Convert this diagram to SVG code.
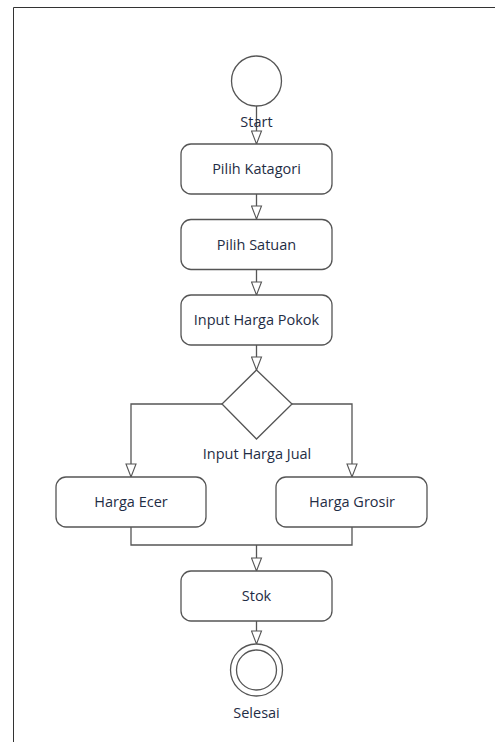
<svg xmlns="http://www.w3.org/2000/svg" width="495" height="742" viewBox="0 0 495 742">
<defs>
<marker id="arr" markerWidth="16" markerHeight="12" refX="14" refY="6" orient="auto" markerUnits="userSpaceOnUse" viewBox="0 0 16 12">
<path d="M1,1 L14,6 L1,11 Z" fill="#fff" stroke="#555" stroke-width="1.1"/>
</marker>
<style>
.n{fill:#fff;stroke:#555;stroke-width:1.3}
.c{fill:none;stroke:#555;stroke-width:1.3}
.t{font-family:"Open Sans","Liberation Sans",sans-serif;font-size:14.5px;fill:#1f2d45;text-anchor:middle}
</style>
</defs>
<rect width="495" height="742" fill="#fff"/>
<path d="M13.5,742 V7.5 H495" fill="none" stroke="#333" stroke-width="1"/>
<g id="connectors">
<line class="c" x1="256.5" y1="106" x2="256.5" y2="144" marker-end="url(#arr)"/>
<line class="c" x1="256.5" y1="194" x2="256.5" y2="219" marker-end="url(#arr)"/>
<line class="c" x1="256.5" y1="270" x2="256.5" y2="295" marker-end="url(#arr)"/>
<line class="c" x1="256.5" y1="345" x2="256.5" y2="370" marker-end="url(#arr)"/>
<polyline class="c" points="222,404 131,404 131,477" marker-end="url(#arr)"/>
<polyline class="c" points="292,404 352,404 352,477" marker-end="url(#arr)"/>
<polyline class="c" points="131,527 131,545 352,545 352,527"/>
<line class="c" x1="256.5" y1="545" x2="256.5" y2="571" marker-end="url(#arr)"/>
<line class="c" x1="256.5" y1="621" x2="256.5" y2="644" marker-end="url(#arr)"/>
</g>
<g id="start">
<circle class="n" cx="256.5" cy="81" r="25"/>
<text class="t" x="256.5" y="127">Start</text>
</g>
<g id="pilih-katagori">
<rect class="n" x="181" y="144" width="151" height="50" rx="10"/>
<text class="t" x="256.5" y="174">Pilih Katagori</text>
</g>
<g id="pilih-satuan">
<rect class="n" x="181" y="219.5" width="151" height="50" rx="10"/>
<text class="t" x="256.5" y="249.5">Pilih Satuan</text>
</g>
<g id="input-harga-pokok">
<rect class="n" x="181" y="295" width="151" height="50" rx="10"/>
<text class="t" x="256.5" y="325">Input Harga Pokok</text>
</g>
<g id="input-harga-jual">
<polygon class="n" points="256.5,370 292,404 256.5,439 222,404"/>
<text class="t" x="257" y="459">Input Harga Jual</text>
</g>
<g id="harga-ecer">
<rect class="n" x="56" y="477" width="150" height="50" rx="10"/>
<text class="t" x="131" y="507">Harga Ecer</text>
</g>
<g id="harga-grosir">
<rect class="n" x="276" y="477" width="151" height="50" rx="10"/>
<text class="t" x="352" y="507">Harga Grosir</text>
</g>
<g id="stok">
<rect class="n" x="181" y="571" width="151" height="50" rx="10"/>
<text class="t" x="256.5" y="601">Stok</text>
</g>
<g id="selesai">
<circle class="n" cx="256.5" cy="670" r="26"/>
<circle class="n" cx="256.5" cy="670" r="20"/>
<text class="t" x="256.5" y="718">Selesai</text>
</g>
</svg>
